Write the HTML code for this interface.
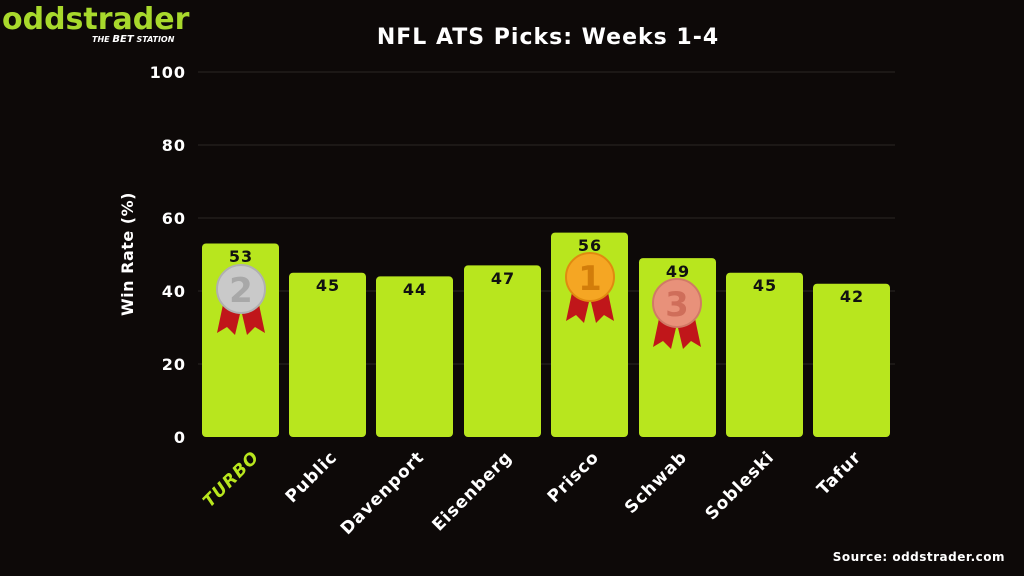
<!DOCTYPE html>
<html><head><meta charset="utf-8"><style>
html,body{margin:0;padding:0;background:#0d0908;}
svg{display:block;}
text{font-family:"DejaVu Sans","Liberation Sans",sans-serif;}
</style></head><body>
<svg width="1024" height="576" viewBox="0 0 1024 576" xmlns="http://www.w3.org/2000/svg">
<rect width="1024" height="576" fill="#0d0908"/>
<!-- logo -->
<text x="2" y="29" font-size="30" font-weight="bold" fill="#a8d92c" letter-spacing="0">oddstrader</text>
<text x="92" y="42" font-size="8" font-weight="bold" font-style="italic" fill="#fff">THE <tspan font-size="10">BET</tspan> STATION</text>
<!-- title -->
<text x="548" y="44" font-size="22" font-weight="bold" fill="#fff" text-anchor="middle" letter-spacing="1">NFL ATS Picks: Weeks 1-4</text>
<!-- gridlines -->
<g stroke="#2a2624" stroke-width="1">
<line x1="198" x2="895" y1="72" y2="72"/>
<line x1="198" x2="895" y1="145" y2="145"/>
<line x1="198" x2="895" y1="218" y2="218"/>
<line x1="198" x2="895" y1="291" y2="291"/>
<line x1="198" x2="895" y1="364" y2="364"/>
</g>
<g font-size="16" font-weight="bold" fill="#fff" text-anchor="end" letter-spacing="1">
<text x="186" y="78">100</text>
<text x="186" y="151">80</text>
<text x="186" y="224">60</text>
<text x="186" y="297">40</text>
<text x="186" y="370">20</text>
<text x="186" y="443">0</text>
</g>
<text transform="translate(133,254) rotate(-90)" font-size="16" font-weight="bold" fill="#fff" text-anchor="middle" letter-spacing="0.5">Win Rate (%)</text>
<!-- bars -->
<g fill="#b8e61e">
<rect x="202" y="243.5" width="77" height="193.5" rx="4"/>
<rect x="289" y="272.7" width="77" height="164.3" rx="4"/>
<rect x="376" y="276.4" width="77" height="160.6" rx="4"/>
<rect x="464" y="265.4" width="77" height="171.6" rx="4"/>
<rect x="551" y="232.6" width="77" height="204.4" rx="4"/>
<rect x="639" y="258.1" width="77" height="178.9" rx="4"/>
<rect x="726" y="272.7" width="77" height="164.3" rx="4"/>
<rect x="813" y="283.7" width="77" height="153.3" rx="4"/>
</g>
<g font-size="16" font-weight="bold" fill="#111" text-anchor="middle" letter-spacing="1">
<text x="241" y="262">53</text>
<text x="328" y="291">45</text>
<text x="415" y="295">44</text>
<text x="503" y="284">47</text>
<text x="590" y="251">56</text>
<text x="678" y="277">49</text>
<text x="765" y="291">45</text>
<text x="852" y="302">42</text>
</g>
<!-- medals -->
<defs>
<g id="rib"><polygon points="-16,6 -24,44 -14,38 -6,46 2,12" fill="#c0161a"/><polygon points="16,6 24,44 14,38 6,46 -2,12" fill="#c0161a"/></g>
</defs>
<use href="#rib" x="241" y="289"/>
<circle cx="241" cy="289" r="24" fill="#c9c9c9" stroke="#b0b0b0" stroke-width="2"/>
<text x="241" y="302" font-size="34" font-weight="bold" fill="#a8a8a8" text-anchor="middle">2</text>
<use href="#rib" x="590" y="277"/>
<circle cx="590" cy="277" r="24" fill="#f5a623" stroke="#e08a10" stroke-width="2"/>
<text x="590" y="290" font-size="34" font-weight="bold" fill="#d27d0a" text-anchor="middle">1</text>
<use href="#rib" x="677" y="303"/>
<circle cx="677" cy="303" r="24" fill="#e8917a" stroke="#d07a66" stroke-width="2"/>
<text x="677" y="316" font-size="34" font-weight="bold" fill="#cf6e5a" text-anchor="middle">3</text>
<!-- x labels -->
<g font-size="17" font-weight="bold" fill="#fff" text-anchor="end" letter-spacing="1">
<text transform="translate(260,458) rotate(-45)" fill="#b8e61e" font-style="italic">TURBO</text>
<text transform="translate(338,458) rotate(-45)">Public</text>
<text transform="translate(425,458) rotate(-45)">Davenport</text>
<text transform="translate(513,458) rotate(-45)">Eisenberg</text>
<text transform="translate(600,458) rotate(-45)">Prisco</text>
<text transform="translate(688,458) rotate(-45)">Schwab</text>
<text transform="translate(775,458) rotate(-45)">Sobleski</text>
<text transform="translate(862,458) rotate(-45)">Tafur</text>
</g>
<text x="1005" y="561" font-size="12" font-weight="bold" fill="#fff" text-anchor="end" letter-spacing="0.5">Source: oddstrader.com</text>
</svg>
</body></html>
